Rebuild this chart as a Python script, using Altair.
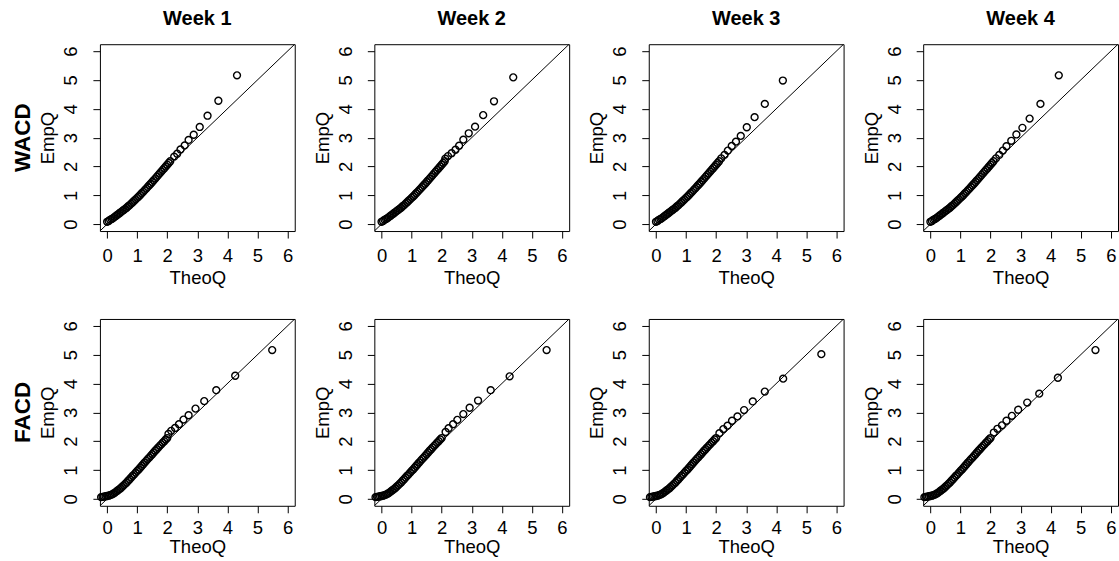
import altair as alt
import pandas as pd

weeks = ["Week 1", "Week 2", "Week 3", "Week 4"]
models = ["WACD", "FACD"]
tick_values = [0, 1, 2, 3, 4, 5, 6]
axis_domain = [-0.24, 6.24]
line_ends = [-0.24, 6.24]

# dense body of the QQ plots
wacd_body_theo = [0.00, 0.05, 0.10, 0.15, 0.20, 0.25, 0.30, 0.35, 0.40, 0.45, 0.50, 0.55, 0.60, 0.65, 0.70,
                  0.75, 0.80, 0.85, 0.90, 0.95, 1.00, 1.05, 1.10, 1.15, 1.20, 1.25, 1.30, 1.35, 1.40, 1.45,
                  1.50, 1.55, 1.60, 1.65, 1.70, 1.75, 1.80, 1.85, 1.90, 1.95, 2.00, 2.05, 2.10]
wacd_body_emp = [0.08, 0.11, 0.15, 0.18, 0.21, 0.25, 0.29, 0.33, 0.37, 0.41, 0.45, 0.49, 0.53, 0.57, 0.62,
                 0.66, 0.71, 0.76, 0.81, 0.86, 0.91, 0.96, 1.01, 1.07, 1.12, 1.18, 1.23, 1.29, 1.35, 1.40,
                 1.46, 1.52, 1.58, 1.64, 1.70, 1.76, 1.82, 1.88, 1.94, 2.00, 2.06, 2.12, 2.18]
facd_body_theo = [-0.20, -0.15, -0.10, -0.05, 0.00, 0.05, 0.10, 0.15, 0.20, 0.25, 0.30, 0.35, 0.40, 0.45, 0.50,
                  0.55, 0.60, 0.65, 0.70, 0.75, 0.80, 0.85, 0.90, 0.95, 1.00, 1.05, 1.10, 1.15, 1.20, 1.25,
                  1.30, 1.35, 1.40, 1.45, 1.50, 1.55, 1.60, 1.65, 1.70, 1.75, 1.80, 1.85, 1.90, 1.95, 2.00]
facd_body_emp = [0.06, 0.07, 0.08, 0.09, 0.10, 0.11, 0.13, 0.15, 0.18, 0.21, 0.25, 0.29, 0.33, 0.37, 0.42,
                 0.47, 0.52, 0.57, 0.63, 0.68, 0.74, 0.80, 0.85, 0.91, 0.97, 1.02, 1.08, 1.14, 1.20, 1.26,
                 1.32, 1.38, 1.43, 1.49, 1.55, 1.61, 1.67, 1.72, 1.78, 1.84, 1.89, 1.95, 2.00, 2.06, 2.11]

# sparse upper tails, one pair of lists per panel
wacd_w1_theo = [2.23, 2.33, 2.44, 2.58, 2.71, 2.88, 3.08, 3.34, 3.70, 4.32]
wacd_w1_emp = [2.34, 2.44, 2.59, 2.73, 2.92, 3.10, 3.37, 3.76, 4.28, 5.16]
wacd_w2_theo = [2.12, 2.21, 2.33, 2.46, 2.58, 2.72, 2.90, 3.11, 3.38, 3.74, 4.38]
wacd_w2_emp = [2.27, 2.36, 2.46, 2.58, 2.72, 2.93, 3.15, 3.38, 3.78, 4.26, 5.09]
wacd_w3_theo = [2.17, 2.28, 2.39, 2.52, 2.66, 2.82, 3.02, 3.28, 3.62, 4.22]
wacd_w3_emp = [2.28, 2.40, 2.55, 2.71, 2.86, 3.06, 3.36, 3.71, 4.17, 4.98]
wacd_w4_theo = [2.18, 2.29, 2.41, 2.53, 2.69, 2.86, 3.06, 3.30, 3.66, 4.27]
wacd_w4_emp = [2.28, 2.40, 2.55, 2.70, 2.89, 3.11, 3.34, 3.66, 4.17, 5.16]
facd_w1_theo = [2.04, 2.13, 2.26, 2.39, 2.54, 2.71, 2.94, 3.23, 3.63, 4.26, 5.49]
facd_w1_emp = [2.25, 2.36, 2.46, 2.59, 2.75, 2.90, 3.13, 3.39, 3.77, 4.27, 5.16]
facd_w2_theo = [2.13, 2.23, 2.38, 2.52, 2.72, 2.93, 3.21, 3.63, 4.26, 5.49]
facd_w2_emp = [2.32, 2.45, 2.59, 2.74, 2.94, 3.16, 3.41, 3.77, 4.25, 5.16]
facd_w3_theo = [2.11, 2.24, 2.38, 2.53, 2.71, 2.93, 3.22, 3.62, 4.23, 5.50]
facd_w3_emp = [2.28, 2.42, 2.54, 2.71, 2.86, 3.08, 3.38, 3.72, 4.17, 5.02]
facd_w4_theo = [2.11, 2.23, 2.38, 2.53, 2.71, 2.92, 3.22, 3.62, 4.24, 5.49]
facd_w4_emp = [2.30, 2.43, 2.55, 2.71, 2.88, 3.09, 3.34, 3.65, 4.20, 5.16]

tails = {
    ("WACD", 0): (wacd_w1_theo, wacd_w1_emp),
    ("WACD", 1): (wacd_w2_theo, wacd_w2_emp),
    ("WACD", 2): (wacd_w3_theo, wacd_w3_emp),
    ("WACD", 3): (wacd_w4_theo, wacd_w4_emp),
    ("FACD", 0): (facd_w1_theo, facd_w1_emp),
    ("FACD", 1): (facd_w2_theo, facd_w2_emp),
    ("FACD", 2): (facd_w3_theo, facd_w3_emp),
    ("FACD", 3): (facd_w4_theo, facd_w4_emp),
}
bodies = {
    "WACD": (wacd_body_theo, wacd_body_emp),
    "FACD": (facd_body_theo, facd_body_emp),
}

FONT = "Liberation Sans"
W, H = 195, 187
FS = 18.5


def panel(model, col, row):
    bt, be = bodies[model]
    tt, te = tails[(model, col)]
    df = pd.DataFrame({"TheoQ": list(bt) + list(tt), "EmpQ": list(be) + list(te)})
    scale = alt.Scale(domain=axis_domain, nice=False, zero=False)
    x_axis = alt.Axis(
        values=tick_values, title="TheoQ", grid=False, domain=False,
        tickColor="black", tickSize=7, tickWidth=1,
        labelAngle=0, labelAlign="center", labelBaseline="middle",
        labelPadding=17 if row == 0 else 15, labelFlush=False, labelOverlap=False,
        labelFont=FONT, labelFontSize=FS, labelColor="black",
        titleFont=FONT, titleFontSize=FS, titleFontWeight="normal", titleColor="black",
        titleX=W / 2, titleY=47 if row == 0 else 41, titleAlign="center", titleBaseline="middle",
    )
    y_axis = alt.Axis(
        values=tick_values, title="EmpQ", grid=False, domain=False,
        tickColor="black", tickSize=7, tickWidth=1,
        labelAngle=270, labelAlign="center", labelBaseline="middle",
        labelPadding=22, labelFlush=False, labelOverlap=False,
        labelFont=FONT, labelFontSize=FS, labelColor="black",
        titleFont=FONT, titleFontSize=FS, titleFontWeight="normal", titleColor="black",
        titleAngle=270, titleX=-52, titleY=H / 2, titleAlign="center", titleBaseline="middle",
    )
    pts = alt.Chart(df).mark_point(
        shape="circle", filled=False, color="black", size=48, strokeWidth=1.4, opacity=1
    ).encode(
        x=alt.X("TheoQ:Q", scale=scale, axis=x_axis),
        y=alt.Y("EmpQ:Q", scale=scale, axis=y_axis),
    )
    ln = alt.Chart(pd.DataFrame({"TheoQ": line_ends, "EmpQ": line_ends})).mark_line(
        color="black", strokeWidth=1, clip=True
    ).encode(
        x=alt.X("TheoQ:Q", scale=scale, axis=x_axis),
        y=alt.Y("EmpQ:Q", scale=scale, axis=y_axis),
    )
    layers = [pts, ln]
    if col == 0:
        lab = alt.Chart(pd.DataFrame({"label": [model]})).mark_text(
            font=FONT, fontSize=22.5, fontWeight="bold", angle=270, align="center",
            baseline="middle", color="black"
        ).encode(text="label:N", x=alt.value(-77), y=alt.value(H / 2))
        layers.append(lab)
    props = dict(width=W, height=H)
    if row == 0:
        props["title"] = alt.TitleParams(
            weeks[col], font=FONT, fontSize=20, fontWeight="bold", color="black",
            anchor="middle", offset=-5, baseline="bottom", frame="group"
        )
    return alt.layer(*layers).properties(**props)


panels = []
for r, m in enumerate(models):
    for c in range(4):
        panels.append(panel(m, c, r))

chart = alt.concat(
    *panels, columns=4, spacing={"row": 88, "column": 79.67}, bounds="flush"
).properties(
    padding={"left": 11, "top": 8, "right": 0, "bottom": 0}
).configure(
    font=FONT, background="white"
).configure_view(
    stroke="black", strokeWidth=1
)

chart.save("out.html", embed_options={"renderer": "svg", "actions": False})
